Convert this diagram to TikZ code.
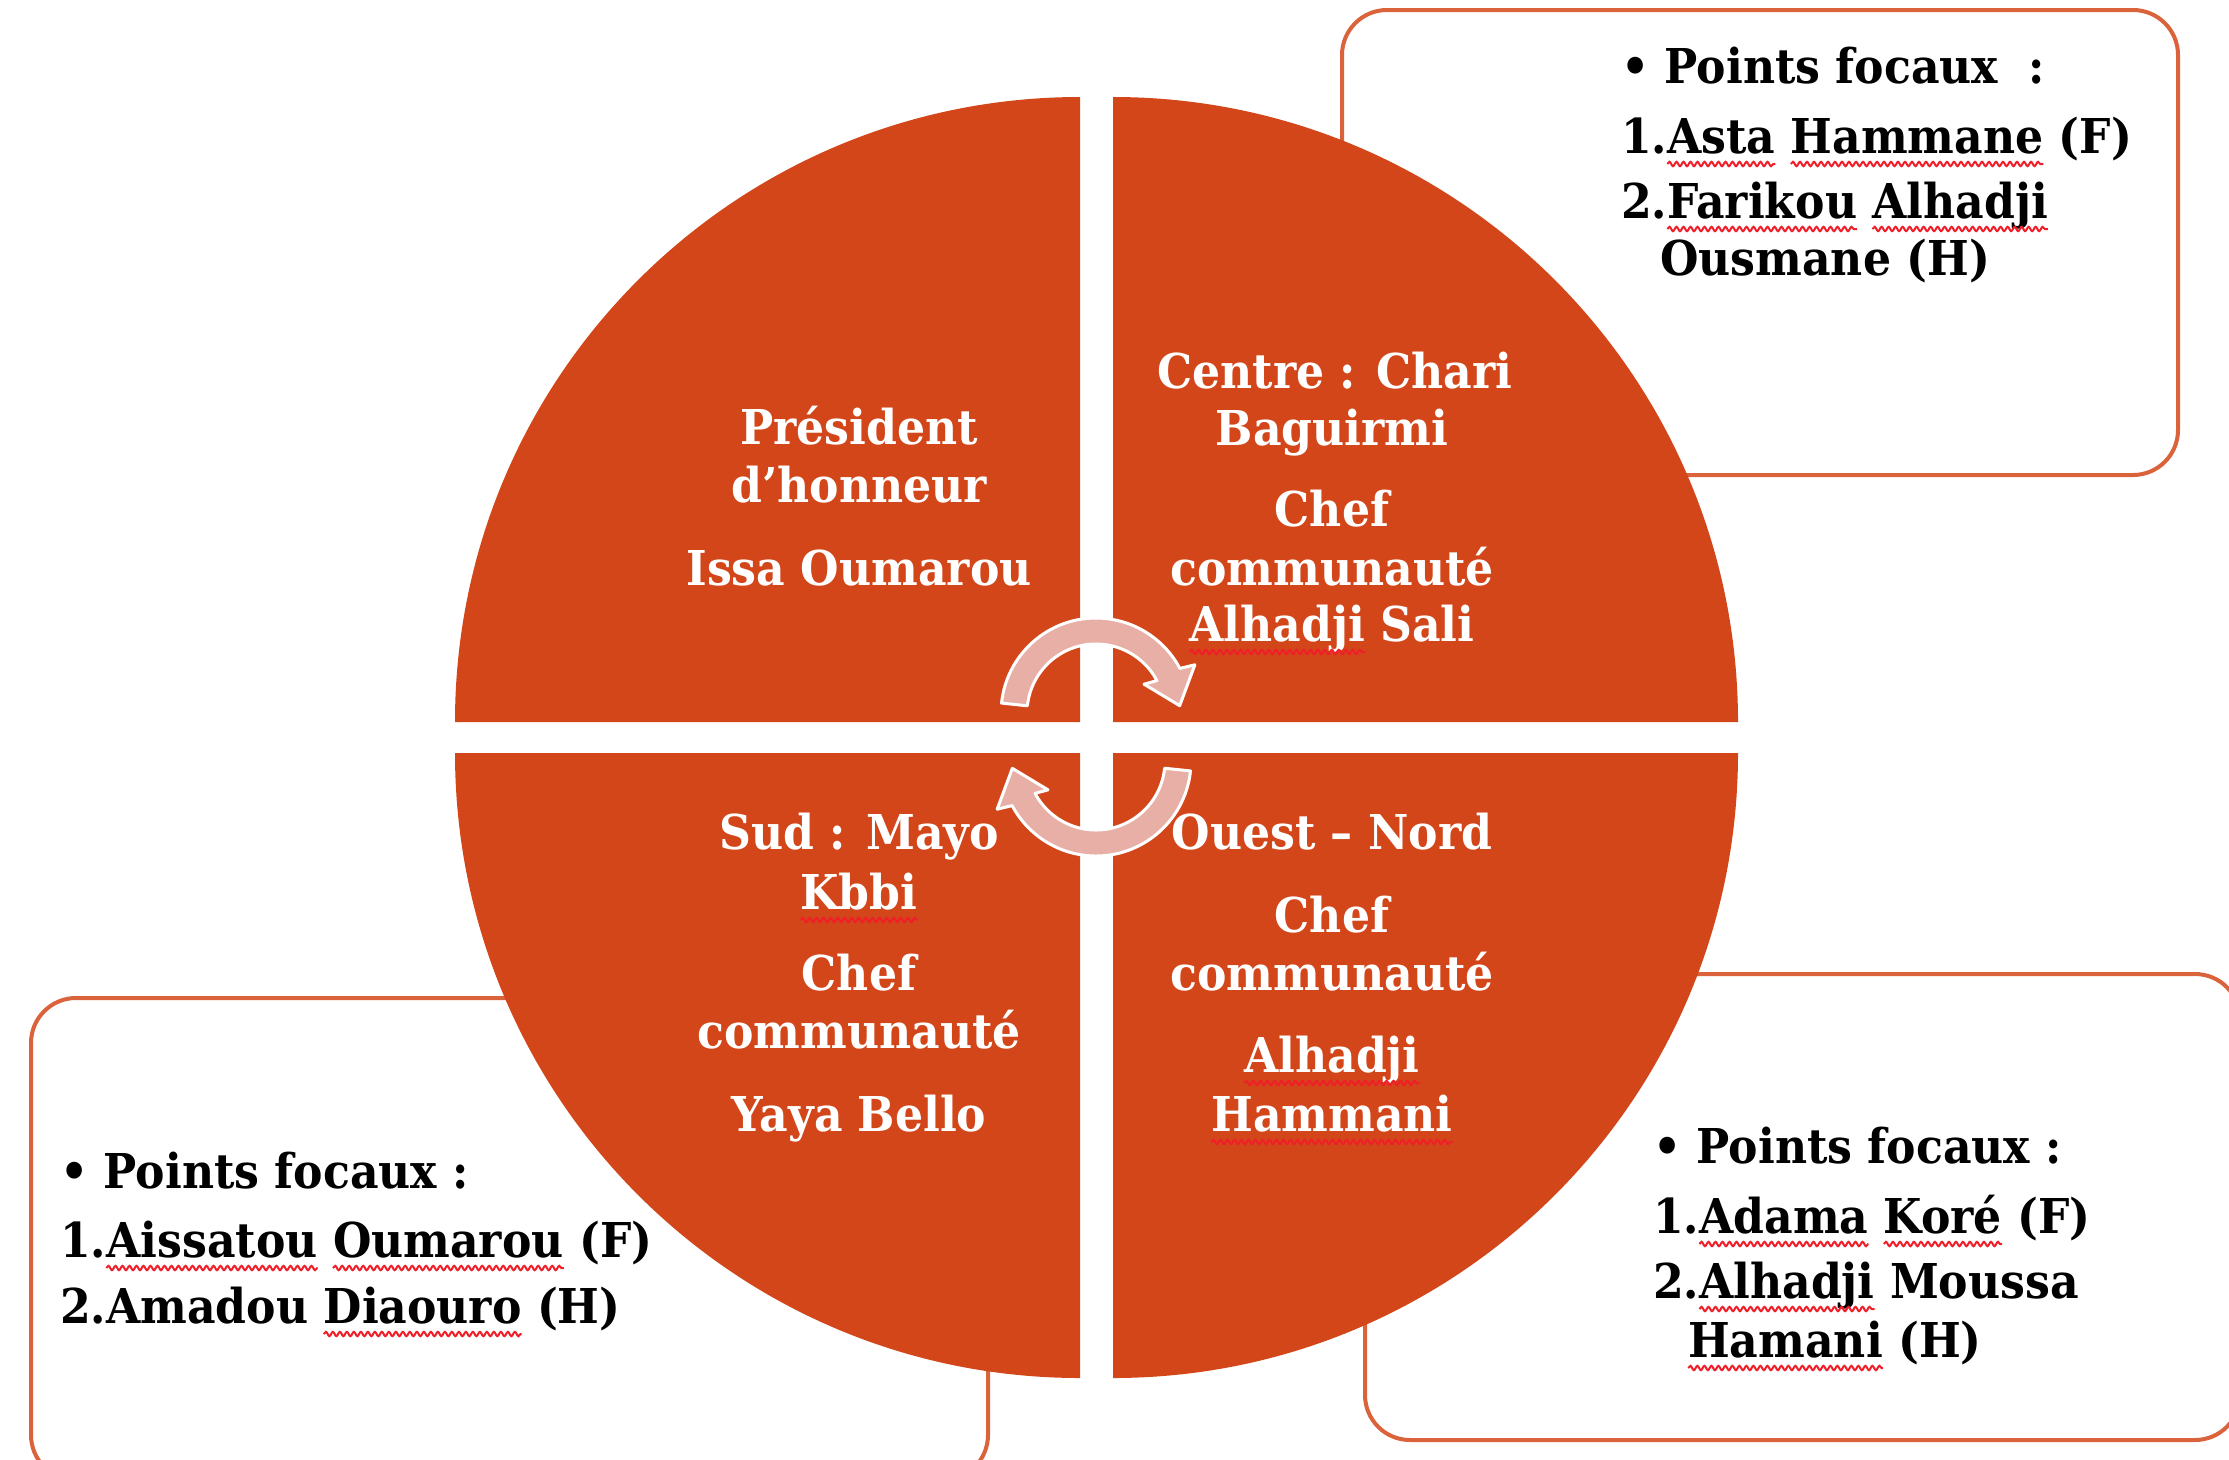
\documentclass[tikz,border=0pt]{standalone}
\usepackage{fontspec}
\setmainfont{DejaVu Serif}[FakeStretch=0.92]
\usetikzlibrary{decorations.pathmorphing}
\definecolor{org}{HTML}{D24619}
\definecolor{bord}{HTML}{DA633C}
\definecolor{arr}{HTML}{E8AFA7}
\definecolor{wavec}{HTML}{F01E28}
\newsavebox\wbox
\newcommand\sq[1]{\sbox\wbox{#1}\usebox\wbox\llap{\tikz[baseline=0pt,x=1pt,y=1pt]{\useasboundingbox (0,0) rectangle (\the\wd\wbox,0);\draw[wavec,line width=2pt,decorate,decoration={snake,amplitude=2.2pt,segment length=7pt}] (0,-11) -- (\the\wd\wbox,-11);}}}
\tikzset{
  wt/.style={text=white,font=\fontsize{48}{57}\selectfont\bfseries,inner sep=0pt,anchor=base},
  bt/.style={text=black,font=\fontsize{48}{57}\selectfont\bfseries,inner sep=0pt,anchor=base west},
  quad/.style={fill=org},
  fbox/.style={draw=bord,line width=4pt,fill=white,rounded corners=45pt},
  carrow/.style={fill=arr,draw=white,line width=3pt,line join=round},
}
\begin{document}
\begin{tikzpicture}[x=1pt,y=1pt]
\useasboundingbox (0,0) rectangle (2229,-1459);
% boxes behind
\draw[fbox] (1342,-10) rectangle (2178,-475);
\draw[fbox] (31,-998) rectangle (988,-1480);
\draw[fbox] (1365,-974) rectangle (2240,-1440);
% quadrants
\fill[quad] (1080,-722) -- (455,-722) arc[start angle=180,end angle=90,radius=625] -- cycle;
\fill[quad] (1113,-722) -- (1113,-97) arc[start angle=90,end angle=0,radius=625] -- cycle;
\fill[quad] (1080,-753) -- (455,-753) arc[start angle=180,end angle=270,radius=625] -- cycle;
\fill[quad] (1113,-753) -- (1738,-753) arc[start angle=0,end angle=-90,radius=625] -- cycle;
% circular arrows
\coordinate (c1) at (1096,-713);
\path[carrow] ([shift={(c1)}]174:95) arc[start angle=174,end angle=28,radius=95]
  -- ([shift={(c1)}]26:110) -- ([shift={(c1)}]5:84) -- ([shift={(c1)}]31:56)
  -- ([shift={(c1)}]28:69) arc[start angle=28,end angle=174,radius=69] -- cycle;
\begin{scope}[rotate around={180:(1096,-737)}]
\path[carrow] ([shift={(c1)}]174:95) arc[start angle=174,end angle=28,radius=95]
  -- ([shift={(c1)}]26:110) -- ([shift={(c1)}]5:84) -- ([shift={(c1)}]31:56)
  -- ([shift={(c1)}]28:69) arc[start angle=28,end angle=174,radius=69] -- cycle;
\end{scope}
% quadrant texts
\node[wt] (tl1) at (859,-444) {Président};
\node[wt] (tl2) at (859,-502) {d’honneur};
\node[wt] (tl3) at (859,-585) {Issa Oumarou};
\node[wt] (tr1) at (1335,-388) {Centre : Chari};
\node[wt] (tr2) at (1332,-445) {Baguirmi};
\node[wt] (tr3) at (1332,-526) {Chef};
\node[wt] (tr4) at (1332,-585) {communauté};
\node[wt] (tr5) at (1332,-641) {\sq{Alhadji} Sali};
\node[wt] (bl1) at (859,-849) {Sud : Mayo};
\node[wt] (bl2) at (859,-909) {\sq{Kbbi}};
\node[wt] (bl3) at (859,-990) {Chef};
\node[wt] (bl4) at (859,-1048) {communauté};
\node[wt] (bl5) at (859,-1131) {Yaya Bello};
\node[wt] (br1) at (1332,-849) {Ouest – Nord};
\node[wt] (br2) at (1332,-932) {Chef};
\node[wt] (br3) at (1332,-990) {communauté};
\node[wt] (br4) at (1332,-1072) {\sq{Alhadji}};
\node[wt] (br5) at (1332,-1131) {\sq{Hammani}};
% box texts
\node[bt] (a1) at (1621,-83) {• Points focaux\ \ :};
\node[bt] (a2) at (1621,-153) {1.\sq{Asta} \sq{Hammane} (F)};
\node[bt] (a3) at (1621,-218) {2.\sq{Farikou} \sq{Alhadji}};
\node[bt] (a4) at (1660,-275) {Ousmane (H)};
\node[bt] (b1) at (60,-1188) {• Points focaux :};
\node[bt] (b2) at (60,-1257) {1.\sq{Aissatou} \sq{Oumarou} (F)};
\node[bt] (b3) at (60,-1323) {2.Amadou \sq{Diaouro} (H)};
\node[bt] (c1t) at (1653,-1163) {• Points focaux :};
\node[bt] (c2) at (1653,-1233) {1.\sq{Adama} \sq{Koré} (F)};
\node[bt] (c3) at (1653,-1298) {2.\sq{Alhadji} Moussa};
\node[bt] (c4) at (1688,-1357) {\sq{Hamani} (H)};
\end{tikzpicture}
\end{document}
